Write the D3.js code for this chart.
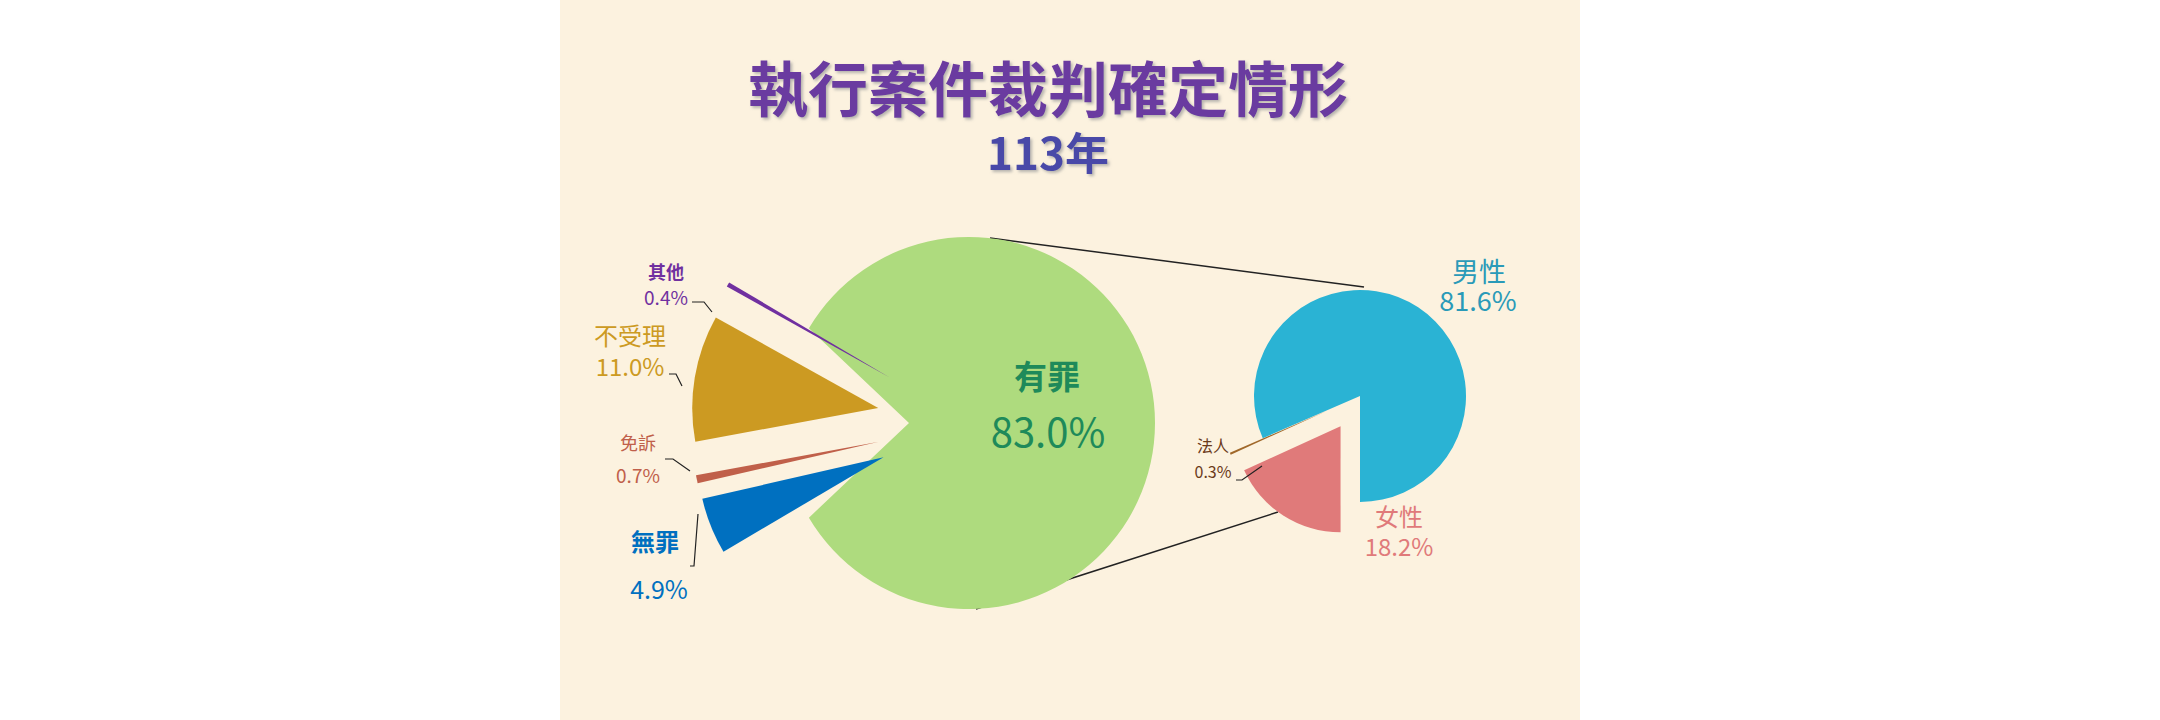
<!DOCTYPE html><html><head><meta charset="utf-8">
<script src="https://cdn.jsdelivr.net/npm/d3@7"></script>
<style>body{margin:0;background:#fff}text{font-family:"Noto Sans CJK TC","Noto Sans",sans-serif}</style></head><body>
<svg id="c" width="2160" height="720"></svg>
<script>
const mainCats=["有罪","無罪","免訴","不受理","其他"];
const mainVals=[83.0,4.9,0.7,11.0,0.4];
const mainColors=["#aedb7e","#0070c0","#c0604a","#cc9a22","#7030a0"];
const subCats=["女性","法人","男性"];
const subVals=[18.2,0.3,81.6];
const subColors=["#e07a7a","#a0682a","#2ab3d4"];
const title="執行案件裁判確定情形", subtitle="113年";

const svg=d3.select("#c");
const defs=svg.append("defs");
const f=defs.append("filter").attr("id","sh");
f.append("feDropShadow").attr("dx",2).attr("dy",2).attr("stdDeviation",1.5).attr("flood-color","#999").attr("flood-opacity",0.7);
svg.append("rect").attr("x",560).attr("y",0).attr("width",1020).attr("height",720).attr("fill","#fcf2df");
svg.append("text").attr("x",1048).attr("y",112).attr("text-anchor","middle").attr("font-size",60).attr("font-weight","bold").attr("fill","#6b3aa0").attr("filter","url(#sh)").text(title);
svg.append("text").attr("x",1048).attr("y",170).attr("text-anchor","middle").attr("font-size",44).attr("font-weight","bold").attr("fill","#4a4aa8").attr("filter","url(#sh)").text(subtitle);

svg.append("line").attr("x1",990).attr("y1",238).attr("x2",1364).attr("y2",287).attr("stroke","#222").attr("stroke-width",1.5);
svg.append("line").attr("x1",976).attr("y1",609).attr("x2",1278).attr("y2",512).attr("stroke","#222").attr("stroke-width",1.5);

const deg=Math.PI/180;
const pie=d3.pie().sort(null).startAngle(-59.4*deg).endAngle(300.6*deg);
const arc=d3.arc().innerRadius(0).outerRadius(186);
const cx=969,cy=423,R=186;
const g=svg.append("g").attr("transform",`translate(${cx},${cy})`);
pie(mainVals).forEach((d,i)=>{
  if(i===0){
    const p=d3.path();
    p.moveTo(-60,0);
    p.arc(0,0,R,d.startAngle-Math.PI/2,d.endAngle-Math.PI/2);
    p.closePath();
    g.append("path").attr("d",p.toString()).attr("fill",mainColors[0]);
    return;
  }
  const m=(d.startAngle+d.endAngle)/2;
  const off=92;
  g.append("path").attr("d",arc(d)).attr("fill",mainColors[i]).attr("transform",`translate(${Math.sin(m)*off},${-Math.cos(m)*off})`);
});

const pie2=d3.pie().sort(null).startAngle(180*deg).endAngle(540*deg);
const arc2=d3.arc().innerRadius(0).outerRadius(106);
const g2=svg.append("g").attr("transform",`translate(1360,396)`);
pie2(subVals).forEach((d,i)=>{
  const m=(d.startAngle+d.endAngle)/2;
  const off=i===2?0:36;
  g2.append("path").attr("d",arc2(d)).attr("fill",subColors[i]).attr("transform",`translate(${Math.sin(m)*off},${-Math.cos(m)*off})`);
});

function lab(x,y,t,size,col,w){svg.append("text").attr("x",x).attr("y",y).attr("text-anchor","middle").attr("font-size",size).attr("font-weight",w||"normal").attr("fill",col).text(t);}
function lead(pts){svg.append("path").attr("d",d3.line()(pts)).attr("fill","none").attr("stroke","#222").attr("stroke-width",1.2);}
const fmt=v=>v.toFixed(1)+"%";
lab(666,279,mainCats[4],18,mainColors[4],"bold"); lab(666,305,fmt(mainVals[4]),19,mainColors[4]);
lab(630,345,mainCats[3],24,mainColors[3]); lab(630,376,fmt(mainVals[3]),24,mainColors[3]);
lab(638,450,mainCats[2],18,mainColors[2]); lab(638,483,fmt(mainVals[2]),19,mainColors[2]);
lab(655,551,mainCats[1],24,mainColors[1],"bold"); lab(659,599,fmt(mainVals[1]),25,mainColors[1]);
lab(1047,389,mainCats[0],33,"#1e8a5a","bold"); lab(1048,447,fmt(mainVals[0]),40,"#1e8a5a");
lab(1479,282,subCats[2],27,"#2a9ab8"); lab(1478,311,fmt(subVals[2]),27,"#2a9ab8");
lab(1213,452,subCats[1],16,"#6b3a1a"); lab(1213,478,fmt(subVals[1]),16,"#6b3a1a");
lab(1399,526,subCats[0],24,subColors[0]); lab(1399,556,fmt(subVals[0]),24,subColors[0]);
lead([[692,302],[704,302],[712,312]]);
lead([[669,374],[676,374],[682,386]]);
lead([[665,459],[673,459],[690,471]]);
lead([[690,566],[694,566],[698,514]]);
lead([[1236,480],[1242,480],[1262,466]]);
</script></body></html>
